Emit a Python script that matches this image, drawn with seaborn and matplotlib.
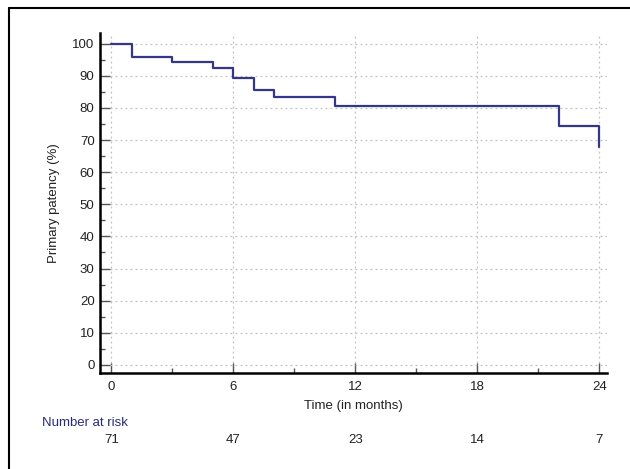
import seaborn as sns
import pandas as pd
import matplotlib.pyplot as plt
from matplotlib.lines import Line2D
from matplotlib.ticker import MultipleLocator
import matplotlib.transforms as mtransforms

# Kaplan-Meier estimate
months = [0, 1, 3, 5, 6, 7, 8, 11, 22, 24]
patency = [100, 95.8, 94.4, 92.6, 89.2, 85.5, 83.3, 80.6, 74.3, 67.9]

risk_times = [0, 6, 12, 18, 24]
at_risk = [71, 47, 23, 14, 7]

sns.set_theme(style="white")
plt.rcParams["font.family"] = ["Liberation Sans", "DejaVu Sans"]

df = pd.DataFrame({"Time": months, "Patency": patency})

fig = plt.figure(figsize=(6.3, 4.69), dpi=100)
ax = fig.add_axes([0.159, 0.205, 0.805, 0.725])

sns.lineplot(data=df, x="Time", y="Patency", drawstyle="steps-post",
             color="#35358a", linewidth=1.6, ax=ax)

ax.set_xlim(-0.55, 24.4)
ax.set_ylim(-2.5, 103.4)
ax.xaxis.set_major_locator(MultipleLocator(6))
ax.xaxis.set_minor_locator(MultipleLocator(3))
ax.yaxis.set_major_locator(MultipleLocator(10))
ax.yaxis.set_minor_locator(MultipleLocator(5))

ax.grid(True, which="major", color="#c0c0c0", linestyle=(0, (1.5, 2.5)), linewidth=0.9)
for side in ["top", "right"]:
    ax.spines[side].set_visible(False)
for side in ["left", "bottom"]:
    ax.spines[side].set_color("black")
    ax.spines[side].set_linewidth(1.8)

ax.tick_params(which="major", direction="in", length=7, width=1, colors="#555555",
               labelcolor="#222222", labelsize=9.5)
ax.tick_params(which="minor", direction="in", length=3.5, width=1, colors="#555555")
ax.tick_params(axis="x", which="major", pad=6)
ax.tick_params(axis="y", which="major", pad=4)
ax.tick_params(axis="x", which="both", bottom=True)
ax.tick_params(axis="y", which="both", left=True)

ax.set_xlabel("Time (in months)", fontsize=9.5, color="#222222", labelpad=5)
ax.set_ylabel("Primary patency (%)", fontsize=9.5, color="#222222", labelpad=9)

# number at risk table
trans = mtransforms.blended_transform_factory(ax.transData, ax.transAxes)
for t, n in zip(risk_times, at_risk):
    ax.text(t, -0.197, str(n), transform=trans, ha="center", va="center",
            fontsize=9.5, color="#222222")
fig.text(42 / 630, 1 - 423 / 469, "Number at risk", ha="left", va="center",
         fontsize=9.5, color="#2a2a7a")

# outer frame
fig.add_artist(Line2D([9 / 630, 9 / 630], [0, 1 - 8 / 469], color="black", linewidth=1.5))
fig.add_artist(Line2D([9 / 630, 1], [1 - 8 / 469, 1 - 8 / 469], color="black", linewidth=1.5))

fig.savefig("out.png", dpi=100)
